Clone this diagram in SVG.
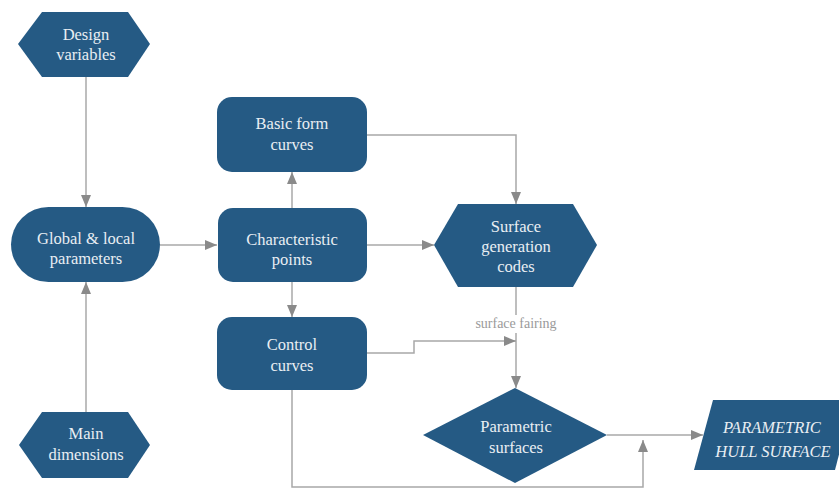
<svg xmlns="http://www.w3.org/2000/svg" width="839" height="489" viewBox="0 0 839 489" font-family="Liberation Serif, Times New Roman, serif">
<style>
.node{fill:#255a84;}
.t{font-size:16.5px;fill:#e9eef3;text-anchor:middle;}
.ti{font-size:16.5px;font-style:italic;fill:#e9eef3;text-anchor:middle;}
.c{fill:none;stroke:#a8a8a8;stroke-width:1.5;}
.lbl{font-size:14px;fill:#9a9a9a;text-anchor:middle;}
</style>
<defs>
<marker id="arr" viewBox="0 0 12 10" refX="12" refY="5" markerWidth="12" markerHeight="10" markerUnits="userSpaceOnUse" orient="auto">
<path d="M0,0 L12,5 L0,10 Z" fill="#8a8a8a"/>
</marker>
</defs>
<rect width="839" height="489" fill="#ffffff"/>
<g id="connectors">
<path class="c" d="M86,77 V207" marker-end="url(#arr)"/>
<path class="c" d="M86,412 V282" marker-end="url(#arr)"/>
<path class="c" d="M160,245 H217" marker-end="url(#arr)"/>
<path class="c" d="M292,208 V172" marker-end="url(#arr)"/>
<path class="c" d="M292,282 V317" marker-end="url(#arr)"/>
<path class="c" d="M367,245 H434" marker-end="url(#arr)"/>
<path class="c" d="M367,135 H516 V204" marker-end="url(#arr)"/>
<path class="c" d="M516,287 V315"/>
<path class="c" d="M516,333 V388" marker-end="url(#arr)"/>
<path class="c" d="M367,353 H414 V341 H516" marker-end="url(#arr)"/>
<path class="c" d="M607,435 H703" marker-end="url(#arr)"/>
<path class="c" d="M292,390 V487 H643 V440" marker-end="url(#arr)"/>
<text class="lbl" x="516" y="328">surface fairing</text>
</g>
<g id="design-variables">
<polygon class="node" points="18,44 42,12 128,12 150,44 128,77 42,77"/>
<text class="t" x="86" y="40">Design</text>
<text class="t" x="86" y="60">variables</text>
</g>
<g id="global-local-parameters">
<rect class="node" x="11" y="207" width="149" height="75" rx="37.5" ry="37.5"/>
<text class="t" x="86" y="244">Global &amp; local</text>
<text class="t" x="86" y="264">parameters</text>
</g>
<g id="main-dimensions">
<polygon class="node" points="19,445 42,412 128,412 150,445 128,478 42,478"/>
<text class="t" x="86" y="439">Main</text>
<text class="t" x="86" y="460">dimensions</text>
</g>
<g id="basic-form-curves">
<rect class="node" x="217" y="97" width="150" height="75" rx="15" ry="15"/>
<text class="t" x="292" y="129">Basic form</text>
<text class="t" x="292" y="150">curves</text>
</g>
<g id="characteristic-points">
<rect class="node" x="218" y="208" width="149" height="74" rx="15" ry="15"/>
<text class="t" x="292" y="245">Characteristic</text>
<text class="t" x="292" y="265">points</text>
</g>
<g id="control-curves">
<rect class="node" x="217" y="317" width="150" height="73" rx="15" ry="15"/>
<text class="t" x="292" y="350">Control</text>
<text class="t" x="292" y="371">curves</text>
</g>
<g id="surface-generation-codes">
<polygon class="node" points="434,245 458,204 573,204 597,245 573,287 458,287"/>
<text class="t" x="516" y="232">Surface</text>
<text class="t" x="516" y="252">generation</text>
<text class="t" x="516" y="272">codes</text>
</g>
<g id="parametric-surfaces">
<polygon class="node" points="423,435 515,388 607,435 515,483"/>
<text class="t" x="516" y="432">Parametric</text>
<text class="t" x="516" y="453">surfaces</text>
</g>
<g id="parametric-hull-surface">
<polygon class="node" points="713,400 853,400 835,470 694,470"/>
<text class="ti" x="772" y="433">PARAMETRIC</text>
<text class="ti" x="773" y="457">HULL SURFACE</text>
</g>
</svg>
